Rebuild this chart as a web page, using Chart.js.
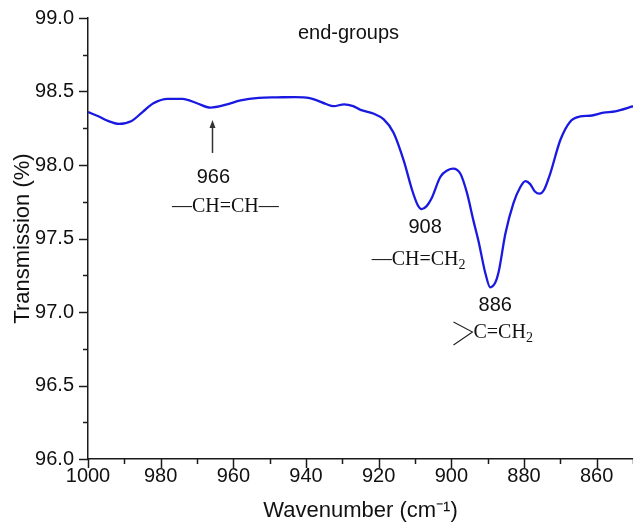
<!DOCTYPE html>
<html>
<head>
<meta charset="utf-8">
<script src="https://cdn.jsdelivr.net/npm/chart.js@4.4.1/dist/chart.umd.min.js"></script>
<style>
html,body{margin:0;padding:0;background:#ffffff;}
#wrap{width:633px;height:524px;position:relative;}
</style>
</head>
<body>
<div id="wrap"><canvas id="c" width="633" height="524"></canvas></div>
<script>
// ---- data ----
const wavenumbers = [1000, 997, 994.5, 991.5, 988, 985, 982, 978, 974, 970, 966.3, 962, 958, 953, 948, 943, 939, 937, 934.5, 932.4, 929.5, 927, 925, 921.5, 918.6, 915.9, 913.1, 910.8, 909.3, 908.2, 906.8, 905.5, 903, 901, 899.5, 897.5, 895.7, 893.9, 892.5, 890.6, 889.3, 887.9, 887, 885.1, 882.9, 881, 879.6, 878.3, 877, 875.7, 874.5, 872.8, 870, 867.3, 864.5, 861.8, 858.1, 854.9, 851.2, 850];
const transmission = [98.36, 98.33, 98.30, 98.28, 98.30, 98.36, 98.42, 98.45, 98.45, 98.42, 98.39, 98.41, 98.44, 98.457, 98.46, 98.462, 98.455, 98.44, 98.415, 98.40, 98.413, 98.40, 98.375, 98.35, 98.31, 98.22, 98.03, 97.83, 97.73, 97.70, 97.72, 97.77, 97.92, 97.965, 97.975, 97.94, 97.81, 97.62, 97.48, 97.26, 97.168, 97.20, 97.27, 97.535, 97.74, 97.85, 97.89, 97.87, 97.82, 97.805, 97.83, 97.94, 98.17, 98.295, 98.33, 98.335, 98.356, 98.365, 98.39, 98.40];

const xMin = 850, xMax = 1000, xStep = 10, xLabelEvery = 20;
const yMin = 96, yMax = 99, yStep = 0.25, yLabelEvery = 0.5;

const xAxisTitle = "Wavenumber (cm\u207B\u00B9)";
const yAxisTitle = "Transmission (%)";
const panelTitle = "end-groups";

// annotation labels and the data coordinates they sit at
const peakLabels = ["966", "908", "886"];
const peakLabelX = [965.5, 907.2, 887.9];
const peakLabelY = [97.918, 97.578, 97.041];
// formulas: main part + subscript
const groupMain = ["\u2014CH=CH\u2014", "\u2014CH=CH", "C=CH"];
const groupSub = ["", "2", "2"];
const groupLabelX = [962.2, 909.0, 893.9];
const groupLabelY = [97.714, 97.354, 96.857];
const arrowX = 966.0, arrowFromY = 98.082, arrowToY = 98.306;
const panelTitleX = 928.3, panelTitleY = 98.898;

const points = wavenumbers.map((w, i) => ({x: w, y: transmission[i]}));

const SANS = '"Liberation Sans", Arial, Helvetica, sans-serif';
const SERIF = '"Liberation Serif", "Times New Roman", serif';

function isMult(v, m) { const r = v / m; return Math.abs(r - Math.round(r)) < 1e-6; }

const tickMarks = {
  id: 'tickMarks',
  afterDraw(chart) {
    const ctx = chart.ctx;
    const xs = chart.scales.x, ys = chart.scales.y;
    ctx.save();
    ctx.strokeStyle = '#1a1a1a';
    ctx.lineWidth = 1.5;
    xs.ticks.forEach(t => {
      const px = Math.round(xs.getPixelForValue(t.value)) + 0.5;
      const len = isMult(t.value, xLabelEvery) ? 9 : 5;
      ctx.beginPath();
      ctx.moveTo(px, xs.top);
      ctx.lineTo(px, xs.top + len);
      ctx.stroke();
    });
    ys.ticks.forEach(t => {
      const py = Math.round(ys.getPixelForValue(t.value)) + 0.5;
      const len = isMult(t.value, yLabelEvery) ? 9 : 5;
      ctx.beginPath();
      ctx.moveTo(ys.right, py);
      ctx.lineTo(ys.right - len, py);
      ctx.stroke();
    });
    ctx.restore();
  }
};

const annotationsPlugin = {
  id: 'annotationsPlugin',
  afterDatasetsDraw(chart) {
    const ctx = chart.ctx;
    const xs = chart.scales.x, ys = chart.scales.y;
    ctx.save();
    ctx.fillStyle = '#111111';
    ctx.textBaseline = 'middle';
    // panel title
    ctx.font = '20px ' + SANS;
    ctx.textAlign = 'center';
    ctx.fillText(panelTitle, xs.getPixelForValue(panelTitleX), ys.getPixelForValue(panelTitleY));
    // peak numbers
    peakLabels.forEach((s, i) => {
      ctx.fillText(s, xs.getPixelForValue(peakLabelX[i]), ys.getPixelForValue(peakLabelY[i]));
    });
    // group formulas
    groupMain.forEach((s, i) => {
      const px = xs.getPixelForValue(groupLabelX[i]);
      const py = ys.getPixelForValue(groupLabelY[i]);
      ctx.font = '20px ' + SERIF;
      const wMain = ctx.measureText(s).width;
      ctx.font = '14px ' + SERIF;
      const wSub = groupSub[i] ? ctx.measureText(groupSub[i]).width : 0;
      let left = (i === 2) ? px : px - (wMain + wSub) / 2;
      ctx.textAlign = 'left';
      ctx.font = '20px ' + SERIF;
      ctx.fillText(s, left, py);
      if (groupSub[i]) {
        ctx.font = '14px ' + SERIF;
        ctx.fillText(groupSub[i], left + wMain, py + 5);
      }
      if (i === 2) {
        // the ">" branching bonds drawn as two strokes
        ctx.strokeStyle = '#222';
        ctx.lineWidth = 1.1;
        ctx.beginPath();
        ctx.moveTo(px - 20, py - 11);
        ctx.lineTo(px - 1, py - 1);
        ctx.lineTo(px - 20, py + 12);
        ctx.stroke();
      }
    });
    // arrow
    const ax = Math.round(xs.getPixelForValue(arrowX)) + 0.5;
    const ay1 = ys.getPixelForValue(arrowFromY);
    const ay2 = ys.getPixelForValue(arrowToY);
    ctx.strokeStyle = '#333';
    ctx.fillStyle = '#333';
    ctx.lineWidth = 1.5;
    ctx.beginPath();
    ctx.moveTo(ax, ay1);
    ctx.lineTo(ax, ay2 + 6);
    ctx.stroke();
    ctx.beginPath();
    ctx.moveTo(ax, ay2);
    ctx.lineTo(ax - 3, ay2 + 8);
    ctx.lineTo(ax + 3, ay2 + 8);
    ctx.closePath();
    ctx.fill();
    ctx.restore();
  }
};

new Chart(document.getElementById('c'), {
  type: 'line',
  data: {
    datasets: [{
      data: points,
      borderColor: 'rgb(25, 25, 225)',
      borderWidth: 2.3,
      pointRadius: 0,
      fill: false,
      cubicInterpolationMode: 'monotone'
    }]
  },
  options: {
    responsive: false,
    devicePixelRatio: 1,
    animation: false,
    layout: {padding: {top: 18, right: 0, bottom: 0, left: 0}},
    plugins: {legend: {display: false}, tooltip: {enabled: false}},
    scales: {
      x: {
        type: 'linear',
        reverse: true,
        min: xMin, max: xMax,
        grid: {display: false, drawTicks: false},
        border: {display: true, color: '#1a1a1a', width: 1.5},
        ticks: {
          stepSize: xStep, autoSkip: false, maxRotation: 0, padding: 5,
          color: '#111', font: {family: SANS, size: 20},
          callback: (v) => isMult(v, xLabelEvery) ? String(v) : ''
        },
        title: {display: true, text: xAxisTitle, color: '#111', font: {family: SANS, size: 22}, padding: {top: 0, bottom: 0}},
        afterFit: (s) => { s.height = 65; s.paddingLeft = 0; s.paddingRight = 0; }
      },
      y: {
        min: yMin, max: yMax,
        grid: {display: false, drawTicks: false},
        border: {display: true, color: '#1a1a1a', width: 1.5},
        ticks: {
          stepSize: yStep, autoSkip: false, padding: 14,
          color: '#111', font: {family: SANS, size: 20},
          callback: (v) => isMult(v, yLabelEvery) ? v.toFixed(1) : ''
        },
        title: {display: true, text: yAxisTitle, color: '#111', font: {family: SANS, size: 22}, padding: {top: 10, bottom: 0}},
        afterFit: (s) => { s.width = 88; s.paddingTop = 0; s.paddingBottom = 0; }
      }
    }
  },
  plugins: [tickMarks, annotationsPlugin]
});
</script>
</body>
</html>
